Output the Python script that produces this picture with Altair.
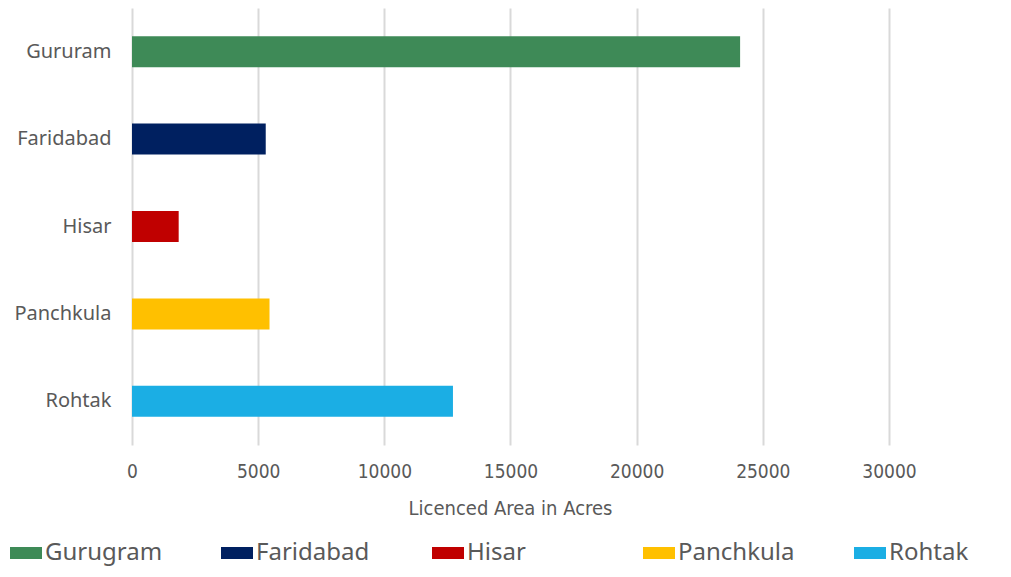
import altair as alt
import pandas as pd

categories = ["Gururam", "Faridabad", "Hisar", "Panchkula", "Rohtak"]
legend_labels = ["Gurugram", "Faridabad", "Hisar", "Panchkula", "Rohtak"]
values = [24100, 5300, 1850, 5450, 12720]
colors = ["#3E8A57", "#002060", "#C00000", "#FFC000", "#1BAEE4"]
x_ticks = [0, 5000, 10000, 15000, 20000, 25000, 30000]

df = pd.DataFrame({"city": categories, "area": values})

label_map = " : ".join(
    f"datum.label == '{c}' ? '{l}'" for c, l in zip(categories, legend_labels)
) + " : datum.label"

cond_font = "DejaVu Sans Condensed, Roboto, sans-serif"

chart = alt.Chart(df).mark_bar().encode(
    y=alt.Y("city:N", sort=categories,
            scale=alt.Scale(paddingInner=0.645, paddingOuter=0.3225),
            axis=alt.Axis(title=None, labelFont="Noto Sans", labelFontSize=20,
                          labelColor="#595959", labelPadding=21, ticks=False,
                          domain=False, grid=False)),
    x=alt.X("area:Q", scale=alt.Scale(domain=[0, 34400], nice=False),
            axis=alt.Axis(values=x_ticks, format="d", labelFlush=False,
                          title="Licenced Area in Acres",
                          titleFont=cond_font, titleFontSize=20,
                          titleFontWeight="normal", titleColor="#595959",
                          titleX=378, titleY=63, titleBaseline="middle",
                          labelFont=cond_font, labelFontSize=19,
                          labelColor="#595959", labelPadding=17,
                          ticks=False, domain=False, grid=True,
                          gridColor="#D9D9D9", gridWidth=2)),
    color=alt.Color("city:N", sort=categories,
                    scale=alt.Scale(domain=categories, range=colors),
                    legend=alt.Legend(
                        title=None, orient="none", legendX=-122, legendY=529,
                        direction="horizontal", columns=5, gridAlign="all",
                        symbolType="M-1,-0.375H1V0.375H-1Z", symbolSize=1024,
                        symbolStrokeWidth=0, labelFont="Noto Sans",
                        labelFontSize=24, labelColor="#595959",
                        labelOffset=3, columnPadding=58, labelExpr=label_map,
                        labelLimit=300)),
).properties(
    width=868, height=437,
    padding={"left": 124, "top": 0, "right": 0, "bottom": 124},
    autosize="none",
).configure_view(stroke=None)

chart.save("out.html", embed_options={"renderer": "svg", "actions": False})
